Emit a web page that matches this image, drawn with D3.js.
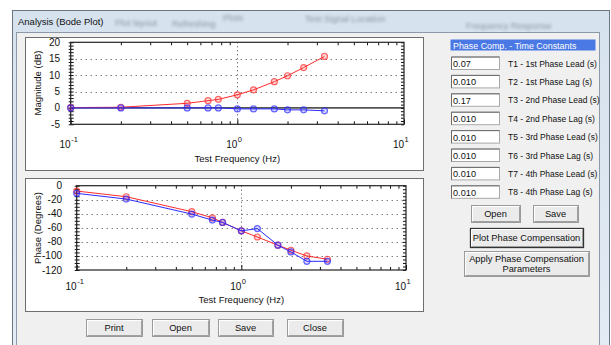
<!DOCTYPE html>
<html>
<head>
<meta charset="utf-8">
<script src="https://cdn.jsdelivr.net/npm/d3@7"></script>
<style>
html, body { margin: 0; padding: 0; background: #fff; overflow: hidden; }
svg text { font-family: "Liberation Sans", Arial, sans-serif; }
</style>
</head>
<body>
<svg id="chart" width="611" height="345"></svg>
<script>
// test frequencies (Hz) and the two curves
const freqHz = [0.1, 0.2, 0.5, 0.667, 0.769, 1.0, 1.25, 1.667, 2.0, 2.5, 3.333];
const magCompDb = [0.1, 0.2, 1.4, 2.2, 2.6, 4.0, 5.5, 8.0, 9.8, 12.3, 15.7];
const magPlantDb = [0, 0, 0, 0, 0, -0.3, -0.3, -0.3, -0.6, -0.6, -0.9];
const phaseCompDeg = [-7.6, -15.7, -37, -45.7, -52.3, -64.3, -73, -84.7, -91.9, -100, -104.7];
const phasePlantDeg = [-10.9, -19, -40.4, -49, -52.3, -64.3, -61, -84.7, -94.3, -107.6, -107.6];

const magTicks = [20, 15, 10, 5, 0, -5];
const phaseTicks = [0, -20, -40, -60, -80, -100, -120];
const decadeTicks = [0.1, 1, 10];
const decadeExp = ["-1", "0", "1"];

const tcLabels = ["T1 - 1st Phase Lead (s)", "T2 - 1st Phase Lag (s)", "T3 - 2nd Phase Lead (s)",
  "T4 - 2nd Phase Lag (s)", "T5 - 3rd Phase Lead (s)", "T6 - 3rd Phase Lag (s)",
  "T7 - 4th Phase Lead (s)", "T8 - 4th Phase Lag (s)"];
const tcValues = ["0.07", "0.010", "0.17", "0.010", "0.010", "0.010", "0.010", "0.010"];

const svg = d3.select("#chart");
const defs = svg.append("defs");

var grad = defs.append("linearGradient").attr("id", "glass").attr("x1", 0).attr("y1", 0).attr("x2", 0).attr("y2", 1);
grad.append("stop").attr("offset", "0%").attr("stop-color", "#d6e2ee");
grad.append("stop").attr("offset", "100%").attr("stop-color", "#e3ebf4");
defs.append("filter").attr("id", "blur").append("feGaussianBlur").attr("stdDeviation", 1.8);

// window frame
svg.append("rect").attr("x", 12.5).attr("y", 10.5).attr("width", 597).attr("height", 340)
  .attr("fill", "url(#glass)").attr("stroke", "#6b7685");
// blurred stuff behind the glass title bar
[["Plot layout", 115, 26], ["Refreshing", 172, 27], ["Plots", 223, 21], ["Test Signal Location", 305, 22], ["Frequency Response", 466, 29]]
  .forEach(function(b) {
    svg.append("text").attr("x", b[1]).attr("y", b[2]).attr("font-size", 9).attr("fill", "#4a5563")
      .attr("opacity", 0.55).attr("filter", "url(#blur)").text(b[0]);
  });
svg.append("text").attr("x", 18).attr("y", 24.5).attr("font-size", 9.5).attr("fill", "#111")
  .text("Analysis (Bode Plot)");
svg.append("rect").attr("x", 16.5).attr("y", 32.5).attr("width", 583).attr("height", 330)
  .attr("fill", "#f0f0f0").attr("stroke", "#8c99a8");

function drawPlot(box, x, y, yTicks, yMinor, yLabel, opts) {
  svg.append("rect").attr("x", box.x + 0.5).attr("y", box.y + 0.5).attr("width", box.w).attr("height", box.h)
    .attr("fill", "#fff").attr("stroke", "#6e6e6e");
  const g = svg.append("g");
  const x0 = x.range()[0], x1 = x.range()[1];
  const yb = y.range()[0], yt = y.range()[1];

  // dotted grid
  g.selectAll(".hg").data(yTicks.filter(function(v) { return v != y.domain()[0] && v != y.domain()[1] && v != 0; }))
    .enter().append("line")
    .attr("x1", x0).attr("x2", x1)
    .attr("y1", function(d) { return Math.round(y(d)) + 0.5; }).attr("y2", function(d) { return Math.round(y(d)) + 0.5; })
    .attr("stroke", "#444").attr("stroke-dasharray", "1,4");
  g.append("line").attr("x1", Math.round(x(1)) + 0.5).attr("x2", Math.round(x(1)) + 0.5).attr("y1", yt).attr("y2", yb)
    .attr("stroke", "#444").attr("stroke-dasharray", "1,3");
  if (opts.zeroLine) {
    g.append("line").attr("x1", x0).attr("x2", x1).attr("y1", y(0)).attr("y2", y(0))
      .attr("stroke", "#555").attr("stroke-width", 1.6);
  }

  const minor = x.ticks().filter(function(v) { return decadeTicks.indexOf(v) < 0; });
  g.append("g").attr("transform", "translate(0," + yb + ")")
    .call(d3.axisBottom(x).tickValues(minor).tickSize(-3).tickFormat(""));
  g.append("g").attr("transform", "translate(0," + yt + ")")
    .call(d3.axisTop(x).tickValues(minor).tickSize(-3).tickFormat(""));
  g.append("g").attr("transform", "translate(0," + yb + ")")
    .call(d3.axisBottom(x).tickValues(decadeTicks).tickSize(-5).tickFormat(""));
  g.append("g").attr("transform", "translate(" + x0 + ",0)")
    .call(d3.axisLeft(y).tickValues(yMinor).tickSize(-3).tickFormat(""))
    .selectAll(".tick line").attr("x1", -2);
  g.append("g").attr("transform", "translate(" + x1 + ",0)")
    .call(d3.axisRight(y).tickValues(yMinor).tickSize(-3).tickFormat(""));
  g.selectAll(".domain").remove();
  g.selectAll(".tick line").attr("stroke", "#111");
  g.append("rect").attr("x", x0).attr("y", yt).attr("width", x1 - x0).attr("height", yb - yt)
    .attr("fill", "none").attr("stroke", "#222").attr("stroke-width", 1.2);

  // tick labels
  g.selectAll(".yl").data(yTicks).enter().append("text")
    .attr("x", opts.yLabX).attr("y", function(d) { return y(d) + 3.5; })
    .attr("text-anchor", "end").attr("font-size", 10).attr("fill", "#111")
    .text(function(d) { return d; });
  decadeTicks.forEach(function(v, i) {
    g.append("text").attr("x", x(v)).attr("y", yb + opts.xLabDy).attr("text-anchor", "end")
      .attr("font-size", 10).attr("fill", "#111").text("10");
    g.append("text").attr("x", x(v) + 0.5).attr("y", yb + opts.xLabDy - 5.5)
      .attr("font-size", 7.5).attr("fill", "#111").text(decadeExp[i]);
  });
  g.append("text").attr("x", x(1)).attr("y", yb + opts.titleDy).attr("text-anchor", "middle")
    .attr("font-size", 9.5).attr("fill", "#111").text("Test Frequency (Hz)");
  g.append("text").attr("transform", "translate(" + opts.yTitleX + "," + opts.yTitleY + ") rotate(-90)")
    .attr("text-anchor", "middle").attr("font-size", 9.5).attr("fill", "#111").text(yLabel);
  return g;
}

function drawSeries(g, x, y, vals, color) {
  const pts = freqHz.map(function(f, i) { return [f, vals[i]]; });
  g.append("path").datum(pts)
    .attr("d", d3.line().x(function(d) { return x(d[0]); }).y(function(d) { return y(d[1]); }))
    .attr("fill", "none").attr("stroke", color).attr("stroke-width", 1);
  g.selectAll(null).data(pts).enter().append("circle")
    .attr("cx", function(d) { return x(d[0]); }).attr("cy", function(d) { return y(d[1]); })
    .attr("r", 3).attr("fill", color).attr("fill-opacity", 0.18)
    .attr("stroke", color).attr("stroke-opacity", 0.7).attr("stroke-width", 1.2);
}

// magnitude plot
const xMag = d3.scaleLog().domain([0.1, 10]).range([70.7, 404]);
const yMag = d3.scaleLinear().domain([-5, 20]).range([124.3, 42.3]);
const gMag = drawPlot({ x: 25, y: 37, w: 398, h: 133 }, xMag, yMag, magTicks, d3.range(-5, 21, 1),
  "Magnitude (dB)", { zeroLine: true, yLabX: 60, xLabDy: 23.5, titleDy: 38, yTitleX: 41, yTitleY: 83 });
drawSeries(gMag, xMag, yMag, magCompDb, "#ff2a2a");
drawSeries(gMag, xMag, yMag, magPlantDb, "#2a2aff");

// phase plot
const xPh = d3.scaleLog().domain([0.1, 10]).range([76.7, 406]);
const yPh = d3.scaleLinear().domain([-120, 0]).range([270, 185.7]);
const gPh = drawPlot({ x: 25, y: 178, w: 398, h: 133 }, xPh, yPh, phaseTicks, d3.range(-120, 1, 5),
  "Phase (Degrees)", { zeroLine: false, yLabX: 62, xLabDy: 19.5, titleDy: 33, yTitleX: 41, yTitleY: 228 });
drawSeries(gPh, xPh, yPh, phaseCompDeg, "#ff2a2a");
drawSeries(gPh, xPh, yPh, phasePlantDeg, "#2a2aff");

// time constants panel
svg.append("rect").attr("x", 450.5).attr("y", 39.5).attr("width", 145).attr("height", 11)
  .attr("fill", "#4a78e4");
svg.append("text").attr("x", 453).attr("y", 48.5).attr("font-size", 8.9).attr("fill", "#fff")
  .text("Phase Comp. - Time Constants");

const rows = svg.selectAll(".tc").data(tcLabels).enter().append("g")
  .attr("transform", function(d, i) { return "translate(0," + (56.5 + i * 18.4) + ")"; });
rows.append("rect").attr("x", 451.5).attr("y", 0.5).attr("width", 48).attr("height", 12.5)
  .attr("fill", "#fff").attr("stroke", "#a9a9a9");
rows.append("path").attr("d", "M451.5,13V0.5H499.5").attr("fill", "none").attr("stroke", "#6a6a6a");
rows.append("text").attr("x", 453).attr("y", 10.5).attr("font-size", 9.2).attr("fill", "#111")
  .text(function(d, i) { return tcValues[i]; });
rows.append("text").attr("x", 508).attr("y", 10).attr("font-size", 8.5).attr("fill", "#111")
  .text(function(d) { return d; });

function button(x, y, w, h, lines, isDefault) {
  const b = svg.append("g");
  b.append("rect").attr("x", x + 0.5).attr("y", y + 0.5).attr("width", w).attr("height", h)
    .attr("fill", "#ebebeb").attr("stroke", isDefault ? "#333" : "#9a9a9a").attr("stroke-width", isDefault ? 1.3 : 1);
  b.append("path").attr("d", "M" + (x + 1.5) + "," + (y + h - 0.5) + "V" + (y + 1.5) + "H" + (x + w - 0.5))
    .attr("fill", "none").attr("stroke", "#fff");
  b.append("path").attr("d", "M" + (x + 1.5) + "," + (y + h - 0.5) + "H" + (x + w - 0.5) + "V" + (y + 1.5))
    .attr("fill", "none").attr("stroke", "#a0a0a0");
  lines.forEach(function(t, i) {
    b.append("text").attr("x", x + w / 2).attr("y", y + h / 2 + 3.5 + (i - (lines.length - 1) / 2) * 10)
      .attr("text-anchor", "middle").attr("font-size", 9.3).attr("fill", "#111").text(t);
  });
}
button(471, 205, 49, 17, ["Open"]);
button(533, 205, 45, 17, ["Save"]);
button(470, 228, 113, 19, ["Plot Phase Compensation"], true);
button(464, 251, 125, 25, ["Apply Phase Compensation", "Parameters"]);

button(86, 319, 56, 17, ["Print"]);
button(152, 319, 57, 17, ["Open"]);
button(218, 319, 55, 17, ["Save"]);
button(287, 319, 56, 17, ["Close"]);
</script>
</body>
</html>
